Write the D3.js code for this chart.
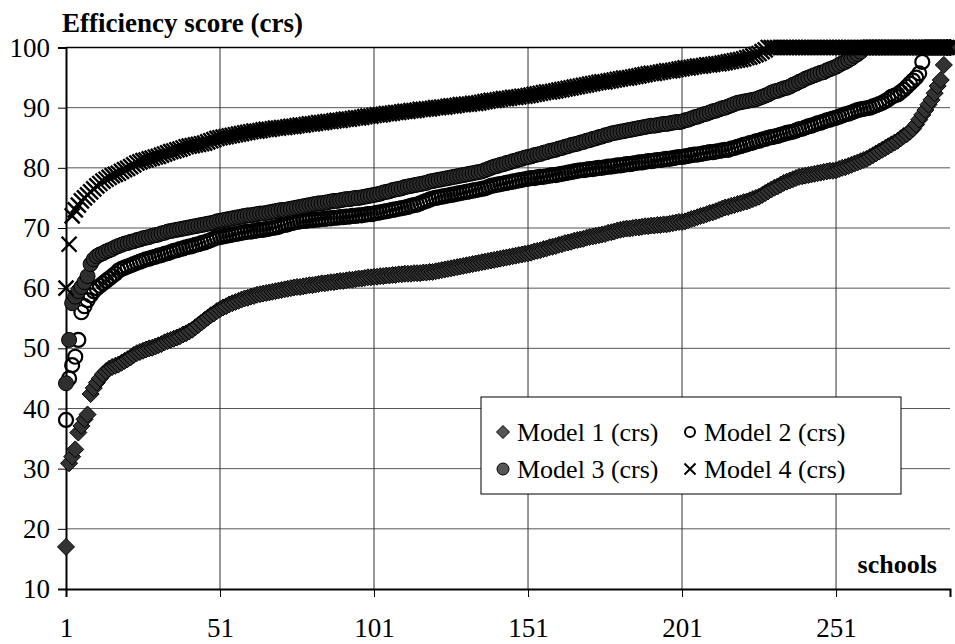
<!DOCTYPE html>
<html><head><meta charset="utf-8">
<script src="https://cdn.jsdelivr.net/npm/d3@7"></script>
<style>
html,body{margin:0;padding:0;background:#fff;}
svg{display:block;}
text{font-family:"Liberation Serif","Times New Roman",serif;fill:#000;}
</style></head>
<body>
<svg id="chart" width="955" height="644"></svg>
<script>
// ---------- DATA (schools sorted by score) ----------
const xTickLabels = [1, 51, 101, 151, 201, 251];
const yTickLabels = [10, 20, 30, 40, 50, 60, 70, 80, 90, 100];
const seriesNames = ["Model 1 (crs)", "Model 2 (crs)", "Model 3 (crs)", "Model 4 (crs)"];

const model1 = [
17.0,30.9,32.0,33.2,36.0,37.1,38.2,39.0,42.4,43.4,
44.3,45.0,45.7,46.2,46.6,46.9,47.1,47.3,47.6,47.9,
48.2,48.5,48.9,49.2,49.4,49.6,49.8,50.0,50.1,50.3,
50.5,50.7,51.0,51.2,51.4,51.6,51.8,52.0,52.3,52.5,
52.8,53.1,53.5,53.9,54.3,54.7,55.1,55.5,55.8,56.2,
56.5,56.8,57.0,57.3,57.5,57.7,57.9,58.1,58.3,58.4,
58.6,58.7,58.9,59.0,59.1,59.2,59.3,59.4,59.5,59.6,
59.7,59.8,59.9,60.0,60.1,60.2,60.2,60.3,60.4,60.5,
60.5,60.6,60.7,60.8,60.8,60.9,61.0,61.0,61.1,61.2,
61.2,61.3,61.4,61.4,61.5,61.6,61.6,61.7,61.8,61.8,
61.9,61.9,62.0,62.0,62.1,62.1,62.2,62.2,62.3,62.3,
62.4,62.4,62.4,62.5,62.5,62.5,62.6,62.6,62.7,62.7,
62.8,62.9,63.0,63.1,63.2,63.3,63.4,63.5,63.6,63.7,
63.8,63.9,64.0,64.1,64.2,64.3,64.4,64.5,64.6,64.7,
64.8,64.9,65.0,65.1,65.2,65.3,65.4,65.5,65.6,65.7,
65.8,65.9,66.1,66.2,66.3,66.5,66.6,66.8,66.9,67.0,
67.2,67.3,67.5,67.6,67.7,67.9,68.0,68.1,68.2,68.4,
68.5,68.6,68.7,68.8,68.9,69.0,69.2,69.3,69.4,69.6,
69.7,69.8,69.9,69.9,70.0,70.1,70.1,70.2,70.3,70.3,
70.4,70.4,70.5,70.5,70.6,70.6,70.7,70.8,70.9,71.0,
71.0,71.1,71.3,71.5,71.6,71.8,72.0,72.1,72.3,72.5,
72.6,72.8,73.0,73.2,73.4,73.5,73.7,73.8,74.0,74.1,
74.3,74.4,74.6,74.8,75.0,75.2,75.5,75.8,76.1,76.4,
76.7,76.9,77.2,77.5,77.7,77.9,78.1,78.3,78.5,78.6,
78.7,78.8,78.9,79.0,79.1,79.2,79.3,79.4,79.5,79.5,
79.6,79.8,80.0,80.1,80.3,80.5,80.7,80.9,81.1,81.3,
81.5,81.8,82.1,82.4,82.7,83.0,83.3,83.6,83.9,84.2,
84.5,84.9,85.3,85.6,86.0,86.5,87.2,88.0,88.8,89.6,
90.5,91.3,92.4,93.6,94.6,97.1,100,100
];

const model2 = [
38.1,45.0,47.2,48.6,51.4,56.0,57.0,58.0,58.8,59.5,
60.0,60.4,60.8,61.2,61.6,62.0,62.4,62.9,63.2,63.4,
63.6,63.8,64.0,64.2,64.4,64.6,64.8,64.9,65.1,65.2,
65.4,65.5,65.7,65.8,66.0,66.2,66.3,66.5,66.6,66.8,
66.9,67.0,67.2,67.3,67.5,67.6,67.8,68.0,68.2,68.4,
68.5,68.6,68.7,68.8,68.9,69.0,69.1,69.2,69.3,69.4,
69.4,69.5,69.6,69.7,69.7,69.8,69.9,70.0,70.1,70.2,
70.4,70.5,70.6,70.8,70.9,71.0,71.1,71.2,71.2,71.3,
71.3,71.4,71.4,71.5,71.5,71.6,71.6,71.7,71.7,71.8,
71.8,71.9,71.9,72.0,72.0,72.1,72.1,72.2,72.3,72.3,
72.4,72.5,72.6,72.7,72.8,72.9,73.0,73.1,73.2,73.3,
73.4,73.5,73.7,73.8,73.9,74.1,74.3,74.5,74.7,74.9,
75.0,75.1,75.2,75.3,75.4,75.5,75.6,75.7,75.8,75.9,
76.0,76.1,76.2,76.3,76.4,76.5,76.6,76.8,77.0,77.1,
77.2,77.3,77.4,77.5,77.6,77.7,77.8,77.9,78.0,78.1,
78.2,78.3,78.3,78.4,78.5,78.5,78.6,78.7,78.8,78.8,
78.9,79.0,79.1,79.2,79.3,79.4,79.5,79.6,79.6,79.7,
79.8,79.8,79.9,80.0,80.0,80.1,80.2,80.2,80.3,80.4,
80.4,80.5,80.6,80.6,80.7,80.8,80.9,80.9,81.0,81.1,
81.1,81.2,81.3,81.3,81.4,81.5,81.5,81.6,81.7,81.8,
81.8,81.9,82.0,82.1,82.2,82.2,82.3,82.4,82.5,82.6,
82.6,82.7,82.8,82.9,83.0,83.0,83.2,83.3,83.5,83.6,
83.8,83.9,84.1,84.2,84.4,84.5,84.7,84.8,85.0,85.1,
85.2,85.3,85.5,85.6,85.8,85.9,86.0,86.2,86.4,86.5,
86.7,86.9,87.0,87.2,87.4,87.5,87.7,87.9,88.0,88.2,
88.3,88.5,88.7,88.9,89.0,89.2,89.4,89.6,89.7,89.8,
89.9,90.0,90.2,90.4,90.6,90.8,91.1,91.4,91.8,92.0,
92.2,92.6,93.0,93.5,94.0,94.5,95.0,95.7,97.6,100,
100,100,100,100,100,100,100,100
];

const model3 = [
44.2,51.4,57.5,58.6,59.5,60.2,61.0,62.0,64.0,64.8,
65.3,65.6,65.8,66.1,66.3,66.5,66.8,67.0,67.2,67.4,
67.5,67.7,67.8,68.0,68.1,68.3,68.4,68.5,68.7,68.8,
68.9,69.1,69.2,69.4,69.5,69.6,69.7,69.8,69.9,70.0,
70.1,70.2,70.3,70.4,70.5,70.6,70.7,70.8,70.9,71.1,
71.2,71.3,71.4,71.5,71.6,71.7,71.8,71.9,72.0,72.1,
72.1,72.2,72.3,72.4,72.4,72.5,72.6,72.7,72.8,72.9,
73.0,73.0,73.1,73.2,73.3,73.4,73.5,73.6,73.7,73.8,
73.9,74.0,74.1,74.1,74.2,74.3,74.4,74.5,74.5,74.6,
74.7,74.8,74.8,74.9,75.0,75.0,75.1,75.2,75.3,75.4,
75.5,75.6,75.7,75.9,76.0,76.1,76.3,76.4,76.5,76.6,
76.8,76.9,77.0,77.1,77.2,77.3,77.4,77.5,77.7,77.8,
77.9,78.0,78.1,78.2,78.3,78.4,78.5,78.6,78.7,78.8,
78.9,79.0,79.1,79.2,79.3,79.4,79.6,79.8,80.0,80.2,
80.3,80.5,80.6,80.8,80.9,81.1,81.2,81.4,81.5,81.7,
81.8,81.9,82.1,82.2,82.3,82.5,82.6,82.8,82.9,83.0,
83.2,83.3,83.5,83.6,83.8,83.9,84.0,84.2,84.3,84.5,
84.6,84.8,84.9,85.1,85.2,85.4,85.5,85.7,85.8,85.9,
86.0,86.1,86.2,86.3,86.4,86.5,86.6,86.7,86.8,86.9,
87.0,87.0,87.1,87.2,87.3,87.3,87.4,87.5,87.6,87.6,
87.7,87.9,88.0,88.2,88.4,88.5,88.7,88.9,89.0,89.2,
89.4,89.5,89.7,89.9,90.0,90.2,90.4,90.6,90.8,90.9,
91.0,91.1,91.2,91.3,91.4,91.6,91.8,92.0,92.2,92.5,
92.7,92.8,93.0,93.2,93.3,93.5,93.8,94.0,94.3,94.5,
94.8,95.0,95.2,95.4,95.6,95.8,95.9,96.2,96.4,96.6,
96.8,97.1,97.4,97.6,97.9,98.2,98.6,98.9,99.3,100,
100,100,100,100,100,100,100,100,100,100,
100,100,100,100,100,100,100,100,100,100,
100,100,100,100,100,100,100,100
];

const model4 = [
60.0,67.3,72.0,73.0,73.8,74.5,75.0,75.5,76.0,76.5,
77.0,77.4,77.8,78.1,78.4,78.7,78.9,79.1,79.4,79.7,
79.9,80.2,80.5,80.8,81.0,81.2,81.3,81.5,81.6,81.8,
81.9,82.1,82.3,82.5,82.7,82.8,83.0,83.1,83.3,83.5,
83.6,83.7,83.8,83.9,84.0,84.1,84.3,84.5,84.7,84.9,
85.0,85.1,85.2,85.3,85.4,85.5,85.6,85.7,85.8,85.9,
86.0,86.1,86.1,86.2,86.3,86.4,86.4,86.5,86.6,86.6,
86.7,86.7,86.8,86.9,86.9,87.0,87.1,87.1,87.2,87.3,
87.3,87.4,87.5,87.5,87.6,87.7,87.7,87.8,87.9,87.9,
88.0,88.1,88.1,88.2,88.3,88.3,88.4,88.5,88.6,88.6,
88.7,88.8,88.8,88.9,89.0,89.0,89.1,89.2,89.2,89.3,
89.4,89.4,89.5,89.5,89.6,89.7,89.7,89.8,89.8,89.9,
90.0,90.0,90.1,90.1,90.2,90.3,90.3,90.4,90.5,90.5,
90.6,90.6,90.7,90.7,90.8,90.9,91.0,91.1,91.2,91.2,
91.3,91.4,91.5,91.5,91.6,91.7,91.7,91.8,91.9,91.9,
92.0,92.1,92.2,92.3,92.4,92.5,92.6,92.6,92.7,92.8,
92.9,93.0,93.1,93.2,93.3,93.4,93.5,93.6,93.7,93.8,
93.9,94.0,94.1,94.2,94.3,94.3,94.4,94.5,94.6,94.7,
94.8,94.9,94.9,95.0,95.1,95.2,95.3,95.4,95.5,95.6,
95.7,95.7,95.8,95.9,96.0,96.1,96.1,96.2,96.3,96.4,
96.5,96.6,96.6,96.7,96.8,96.9,96.9,97.0,97.1,97.1,
97.2,97.3,97.3,97.4,97.5,97.6,97.7,97.8,97.9,98.0,
98.1,98.3,98.4,98.6,98.8,99.0,99.3,99.6,100,100,
100,100,100,100,100,100,100,100,100,100,
100,100,100,100,100,100,100,100,100,100,
100,100,100,100,100,100,100,100,100,100,
100,100,100,100,100,100,100,100,100,100,
100,100,100,100,100,100,100,100,100,100,
100,100,100,100,100,100,100,100
];

// ---------- LAYOUT ----------
const FONT = '"Liberation Serif", "Times New Roman", serif';
const svg = d3.select("#chart");
const plot = {left: 66, right: 950, top: 47.5, bottom: 589};
const nSchools = model1.length;

const x = d3.scaleLinear().domain([1, nSchools]).range([plot.left, plot.right]);
const y = d3.scaleLinear().domain([10, 100]).range([plot.bottom, plot.top]);

// horizontal gridlines
svg.append("g").selectAll("line").data(yTickLabels.filter(v => v > 10 && v < 100)).join("line")
  .attr("x1", plot.left).attr("x2", plot.right)
  .attr("y1", d => y(d)).attr("y2", d => y(d))
  .attr("stroke", "#555").attr("stroke-width", 1);
// vertical gridlines
svg.append("g").selectAll("line").data(xTickLabels.slice(1)).join("line")
  .attr("x1", d => x(d)).attr("x2", d => x(d))
  .attr("y1", plot.top).attr("y2", plot.bottom)
  .attr("stroke", "#333").attr("stroke-width", 1);
// top border
svg.append("line").attr("x1", plot.left).attr("x2", plot.right)
  .attr("y1", plot.top).attr("y2", plot.top).attr("stroke", "#000").attr("stroke-width", 1.5);

// axes
const yAxis = svg.append("g").attr("transform", `translate(${plot.left},0)`)
  .call(d3.axisLeft(y).tickValues(yTickLabels).tickSize(8).tickPadding(8));
yAxis.select(".domain").attr("stroke", "#000").attr("stroke-width", 2);
yAxis.selectAll(".tick line").attr("stroke", "#000");
yAxis.selectAll(".tick text").attr("font-family", FONT).style("font-family", FONT).style("font-size", "27px");

const xAxis = svg.append("g").attr("transform", `translate(0,${plot.bottom})`)
  .call(d3.axisBottom(x).tickValues(xTickLabels).tickSize(8).tickFormat(d3.format("d")));
xAxis.select(".domain").attr("stroke", "#000").attr("stroke-width", 2);
xAxis.selectAll(".tick line").attr("stroke", "#000");
xAxis.selectAll(".tick text").attr("y", 48).attr("dy", 0)
  .attr("font-family", FONT).style("font-family", FONT).style("font-size", "27px");

// titles
svg.append("text").attr("x", 62).attr("y", 32).attr("font-family", FONT)
  .style("font-weight", "bold").style("font-size", "27px")
  .text("Efficiency score (crs)");
svg.append("text").attr("x", 937).attr("y", 573).attr("text-anchor", "end").attr("font-family", FONT)
  .style("font-weight", "bold").style("font-size", "26px").text("schools");

// ---------- MARKERS ----------
const diamondPath = s => `M0,${-s}L${s},0L0,${s}L${-s},0Z`;
const crossPath = s => `M${-s},${-s}L${s},${s}M${-s},${s}L${s},${-s}`;

function drawSeries(data, kind) {
  const g = svg.append("g");
  const pts = data.map((v, i) => ({i: i + 1, v}));
  if (kind === "diamond") {
    g.selectAll("path").data(pts).join("path")
      .attr("d", diamondPath(8.5)).attr("transform", d => `translate(${x(d.i)},${y(d.v)})`)
      .attr("fill", "#333").attr("stroke", "#000").attr("stroke-width", 1);
  } else if (kind === "open") {
    g.selectAll("circle").data(pts).join("circle")
      .attr("cx", d => x(d.i)).attr("cy", d => y(d.v)).attr("r", 7)
      .attr("fill", "none").attr("stroke", "#000").attr("stroke-width", 2.2);
  } else if (kind === "filled") {
    g.selectAll("circle").data(pts).join("circle")
      .attr("cx", d => x(d.i)).attr("cy", d => y(d.v)).attr("r", 7.5)
      .attr("fill", "#2e2e2e").attr("stroke", "#000").attr("stroke-width", 1);
  } else {
    g.selectAll("path").data(pts).join("path")
      .attr("d", crossPath(7.5)).attr("transform", d => `translate(${x(d.i)},${y(d.v)})`)
      .attr("fill", "none").attr("stroke", "#000").attr("stroke-width", 2.4);
  }
}
drawSeries(model1, "diamond");
drawSeries(model2, "open");
drawSeries(model3, "filled");
drawSeries(model4, "cross");

// ---------- LEGEND ----------
const lg = svg.append("g");
lg.append("rect").attr("x", 481).attr("y", 397).attr("width", 420).attr("height", 97)
  .attr("fill", "#fff").attr("stroke", "#000").attr("stroke-width", 1);
const legendItems = [
  {name: seriesNames[0], kind: "diamond", mx: 503, my: 432},
  {name: seriesNames[1], kind: "open", mx: 690, my: 432},
  {name: seriesNames[2], kind: "filled", mx: 503, my: 469},
  {name: seriesNames[3], kind: "cross", mx: 690, my: 469}
];
legendItems.forEach(it => {
  if (it.kind === "diamond") {
    lg.append("path").attr("d", diamondPath(6.5))
      .attr("transform", `translate(${it.mx},${it.my})`).attr("fill", "#555").attr("stroke", "#000");
  } else if (it.kind === "open") {
    lg.append("circle").attr("cx", it.mx).attr("cy", it.my).attr("r", 5)
      .attr("fill", "none").attr("stroke", "#000").attr("stroke-width", 2);
  } else if (it.kind === "filled") {
    lg.append("circle").attr("cx", it.mx).attr("cy", it.my).attr("r", 6)
      .attr("fill", "#555").attr("stroke", "#000");
  } else {
    lg.append("path").attr("d", crossPath(5.5)).attr("transform", `translate(${it.mx},${it.my})`)
      .attr("stroke", "#000").attr("stroke-width", 2);
  }
  lg.append("text").attr("x", it.mx + 14).attr("y", it.my + 9).attr("font-family", FONT)
    .style("font-size", "26px").text(it.name);
});
</script>
</body></html>
